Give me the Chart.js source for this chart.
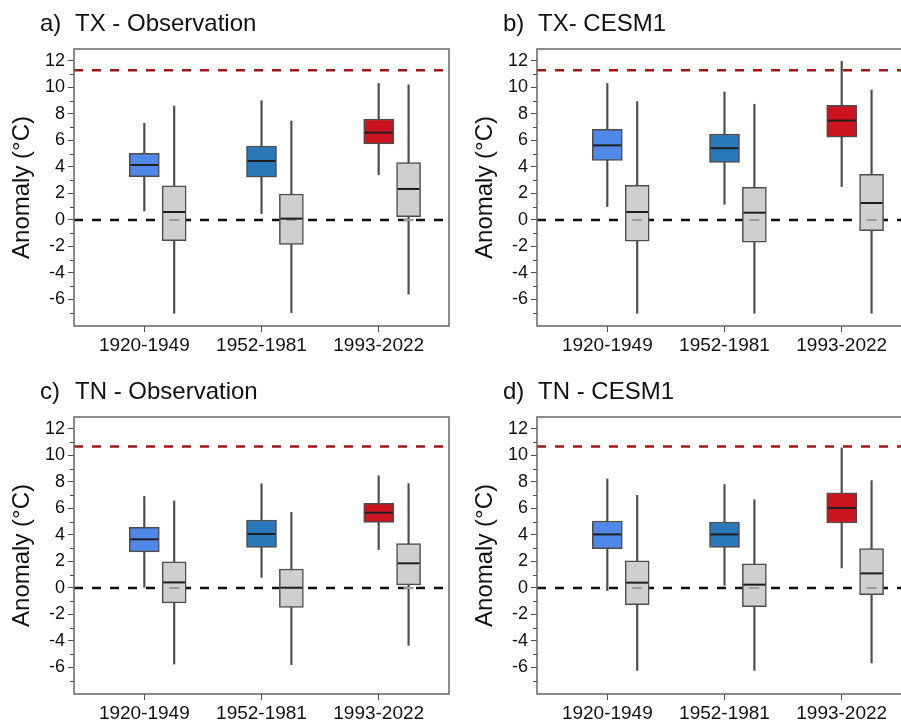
<!DOCTYPE html>
<html>
<head>
<meta charset="utf-8">
<script src="https://cdn.jsdelivr.net/npm/chart.js@4.4.0/dist/chart.umd.min.js"></script>
<style>
  html, body { margin:0; padding:0; background:#fff; overflow:hidden; }
  body { width:901px; height:722px; position:relative; }
  .panel { position:absolute; width:450px; height:360px; }
</style>
</head>
<body>
<div class="panel" style="left:0;top:0"><canvas id="a" width="450" height="360"></canvas></div>
<div class="panel" style="left:463px;top:0"><canvas id="b" width="450" height="360"></canvas></div>
<div class="panel" style="left:0;top:368px"><canvas id="c" width="450" height="360"></canvas></div>
<div class="panel" style="left:463px;top:368px"><canvas id="d" width="450" height="360"></canvas></div>
<script>
const periods = ["1920-1949", "1952-1981", "1993-2022"]
const periodColors = ["#4f88e6", "#2a77ba", "#cc1420"]
// each box: [whisker low, q1, median, q3, whisker high]
const txObsBoxes = [[0.68, 3.27, 4.15, 5.03, 7.3], [0.48, 3.22, 4.45, 5.58, 9.0], [3.42, 5.74, 6.59, 7.62, 10.3]]
const txObsGrey = [[-7.04, -1.56, 0.6, 2.57, 8.6], [-7.0, -1.84, 0.1, 1.96, 7.47], [-5.6, 0.25, 2.34, 4.33, 10.2]]
const txCesmBoxes = [[1.0, 4.5, 5.63, 6.84, 10.3], [1.18, 4.35, 5.41, 6.49, 9.66], [2.52, 6.24, 7.5, 8.65, 11.97]]
const txCesmGrey = [[-7.04, -1.6, 0.6, 2.62, 8.93], [-7.04, -1.68, 0.55, 2.47, 8.73], [-7.04, -0.8, 1.28, 3.45, 9.8]]
const tnObsBoxes = [[0.05, 2.72, 3.67, 4.57, 6.91], [0.8, 3.06, 4.07, 5.13, 7.87], [2.89, 4.95, 5.68, 6.38, 8.47]]
const tnObsGrey = [[-5.74, -1.13, 0.42, 1.98, 6.57], [-5.79, -1.46, 0.02, 1.43, 5.7], [-4.33, 0.23, 1.86, 3.34, 7.87]]
const tnCesmBoxes = [[-0.2, 2.96, 4.04, 5.05, 8.22], [0.2, 3.06, 4.04, 4.98, 7.8], [1.51, 4.9, 6.04, 7.17, 10.57]]
const tnCesmGrey = [[-6.22, -1.26, 0.4, 2.04, 6.99], [-6.22, -1.41, 0.25, 1.83, 6.66], [-5.66, -0.5, 1.1, 2.97, 8.1]]
const greyRefs = [0, 0, 0]
const txExtreme = 11.3
const tnExtreme = 10.68
const yMajorTicks = [-6, -4, -2, 0, 2, 4, 6, 8, 10, 12]
const yMinorTicks = [-7, -5, -3, -1, 1, 3, 5, 7, 9, 11]
const greyShift = 0.255
const xMin = 0.4, xMax = 3.6

const panels = [
  {id:"a", letter:"a)", name:"TX - Observation", boxes:txObsBoxes, grey:txObsGrey, extreme:txExtreme},
  {id:"b", letter:"b)", name:"TX- CESM1", boxes:txCesmBoxes, grey:txCesmGrey, extreme:txExtreme},
  {id:"c", letter:"c)", name:"TN - Observation", boxes:tnObsBoxes, grey:tnObsGrey, extreme:tnExtreme},
  {id:"d", letter:"d)", name:"TN - CESM1", boxes:tnCesmBoxes, grey:tnCesmGrey, extreme:tnExtreme},
]

const FONT = "'Liberation Sans', Arial, sans-serif"
const INK = "#4d4d4d"

/** Medians, reference marks, frame, minor ticks and panel title. */
const boxExtras = {
  id:"boxExtras",
  afterDatasetsDraw(chart) {
    const {ctx, scales:{y}} = chart
    chart.data.datasets.forEach((ds, i) => {
      if (!ds.medians) return
      const meta = chart.getDatasetMeta(i)
      meta.data.forEach((el, j) => {
        ctx.save()
        if (ds.refs) {
          const ry = y.getPixelForValue(ds.refs[j])
          ctx.strokeStyle = "#9a9a9a"
          ctx.lineWidth = 2
          ctx.beginPath()
          ctx.moveTo(el.x - 5, ry)
          ctx.lineTo(el.x + 5, ry)
          ctx.stroke()
        }
        const my = y.getPixelForValue(ds.medians[j])
        ctx.strokeStyle = "#1e1e1e"
        ctx.lineWidth = 2
        ctx.beginPath()
        ctx.moveTo(el.x - el.width / 2 + 1, my)
        ctx.lineTo(el.x + el.width / 2 - 1, my)
        ctx.stroke()
        ctx.restore()
      })
    })
  },
  afterDraw(chart, args, opts) {
    const {ctx, chartArea:a, scales:{y}} = chart
    ctx.save()
    ctx.strokeStyle = "#666"
    ctx.lineWidth = 1.5
    ctx.strokeRect(a.left, a.top, a.right - a.left, a.bottom - a.top)
    ctx.strokeStyle = INK
    ctx.lineWidth = 1
    for (const v of yMinorTicks) {
      const py = Math.round(y.getPixelForValue(v)) + 0.5
      ctx.beginPath()
      ctx.moveTo(a.left - 4, py)
      ctx.lineTo(a.left, py)
      ctx.stroke()
    }
    ctx.fillStyle = "#111"
    ctx.font = `24px ${FONT}`
    ctx.textBaseline = "alphabetic"
    ctx.fillText(opts.letter, a.left - 34, 31)
    ctx.fillText(opts.name, a.left + 1, 31)
    ctx.restore()
  }
}

const dashed = (value, color, order) => ({
  type:"line",
  data:[{x:xMin, y:value}, {x:xMax, y:value}],
  borderColor:color,
  borderWidth:2.5,
  borderDash:[9, 9],
  pointRadius:0,
  order,
})

const bars = (data, extra) => Object.assign({
  type:"bar",
  data,
  grouped:false,
  borderSkipped:false,
}, extra)

for (const p of panels) {
  const datasets = [
    dashed(0, "#111", 10),
    bars(p.boxes.map((b, i) => ({x:i + 1, y:[b[0], b[4]]})), {barThickness:1.5, backgroundColor:INK, order:6}),
    bars(p.grey.map((b, i) => ({x:i + 1 + greyShift, y:[b[0], b[4]]})), {barThickness:1.5, backgroundColor:INK, order:6}),
    bars(p.boxes.map((b, i) => ({x:i + 1, y:[b[1], b[3]]})), {
      barThickness:30, backgroundColor:periodColors, borderColor:INK, borderWidth:1.5, order:4,
      medians:p.boxes.map(b => b[2]),
    }),
    bars(p.grey.map((b, i) => ({x:i + 1 + greyShift, y:[b[1], b[3]]})), {
      barThickness:24, backgroundColor:"#cfcfcf", borderColor:INK, borderWidth:1.5, order:4,
      medians:p.grey.map(b => b[2]), refs:greyRefs,
    }),
    dashed(p.extreme, "#a31616", 1),
  ]
  new Chart(document.getElementById(p.id), {
    type:"bar",
    data:{datasets},
    options:{
      responsive:false,
      animation:false,
      layout:{padding:{top:49, right:1, left:0, bottom:0}},
      plugins:{
        legend:{display:false},
        tooltip:{enabled:false},
        boxExtras:{letter:p.letter, name:p.name},
      },
      scales:{
        x:{
          type:"linear",
          min:xMin,
          max:xMax,
          offset:false,
          border:{display:false},
          grid:{display:true, offset:false, drawOnChartArea:false, tickLength:6, tickColor:INK, tickWidth:1},
          afterBuildTicks:(s) => { s.ticks = periods.map((_, i) => ({value:i + 1})) },
          afterFit:(s) => { s.height = 34 },
          ticks:{
            autoSkip:false,
            maxRotation:0,
            padding:2,
            color:"#111",
            font:{family:FONT, size:19},
            callback:(v) => periods[Math.round(v) - 1],
          },
        },
        y:{
          min:-8,
          max:12.9,
          border:{display:false},
          grid:{display:true, drawOnChartArea:false, tickLength:6, tickColor:INK, tickWidth:1},
          afterBuildTicks:(s) => { s.ticks = yMajorTicks.map(value => ({value})) },
          afterFit:(s) => { s.width = 74 },
          ticks:{
            padding:3,
            color:"#111",
            font:{family:FONT, size:18},
          },
          title:{
            display:true,
            text:"Anomaly (°C)",
            color:"#111",
            font:{family:FONT, size:24},
            padding:{top:8, bottom:0},
          },
        },
      },
    },
    plugins:[boxExtras],
  })
}
</script>
</body>
</html>
